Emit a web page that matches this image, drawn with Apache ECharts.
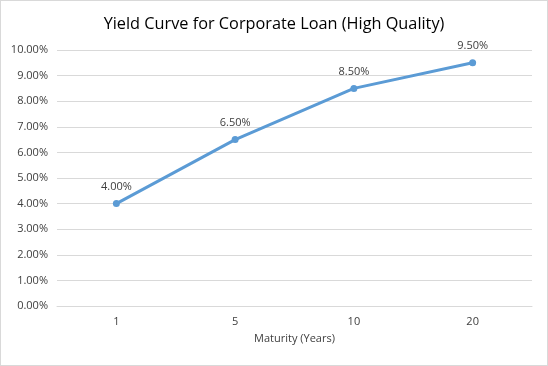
<!DOCTYPE html>
<html><head><meta charset="utf-8">
<script src="https://cdn.jsdelivr.net/npm/echarts@6/dist/echarts.min.js"></script>
<style>html,body{margin:0;padding:0;background:#fff}#c{width:548px;height:366px;box-sizing:border-box;border:1px solid #d9d9d9}</style>
</head><body><div id="c"></div>
<script>
const categories = ['1', '5', '10', '20'];
const yields = [4.0, 6.5, 8.5, 9.5];
const chart = echarts.init(document.getElementById('c'), null, {renderer: 'canvas'});
const font = "'Open Sans', 'Noto Sans', sans-serif";
chart.setOption({
  animation: false,
  title: {
    text: 'Yield Curve for Corporate Loan (High Quality)',
    left: 'center', top: 10,
    textStyle: {fontFamily: font, fontSize: 16.3, fontWeight: 'normal', color: '#000'}
  },
  grid: {left: 56, right: 15, top: 49, bottom: 59},
  xAxis: {
    type: 'category', data: categories, boundaryGap: true,
    name: 'Maturity (Years)', nameLocation: 'middle', nameGap: 27,
    nameTextStyle: {fontFamily: font, fontSize: 11, color: '#404040'},
    axisLine: {lineStyle: {color: '#d9d9d9'}},
    axisTick: {show: false},
    axisLabel: {fontFamily: font, fontSize: 11, color: '#404040', margin: 10}
  },
  yAxis: {
    type: 'value', min: 0, max: 10, interval: 1,
    axisLine: {show: false}, axisTick: {show: false},
    splitLine: {lineStyle: {color: '#d9d9d9'}},
    axisLabel: {fontFamily: font, fontSize: 11, color: '#404040', margin: 9,
      formatter: v => v.toFixed(2) + '%'}
  },
  series: [{
    type: 'line', data: yields,
    lineStyle: {color: '#5B9BD5', width: 3},
    itemStyle: {color: '#5B9BD5'},
    symbol: 'circle', symbolSize: 7,
    label: {show: true, position: 'top', distance: 8, fontFamily: font, fontSize: 11, color: '#404040',
      formatter: p => p.value.toFixed(2) + '%'}
  }]
});
</script></body></html>
